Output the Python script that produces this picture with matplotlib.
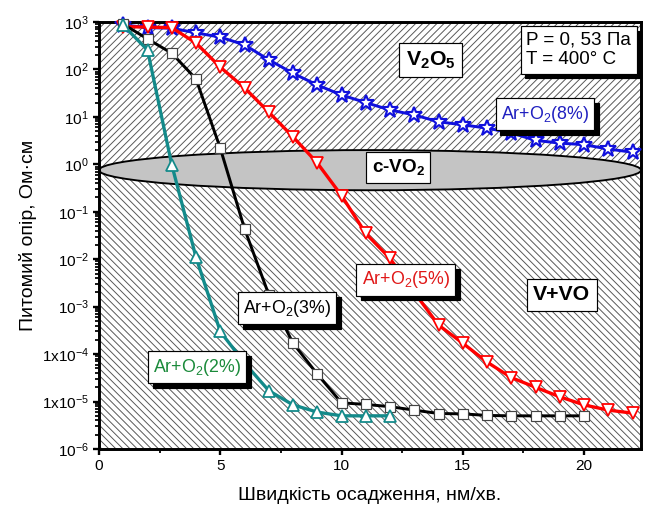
import matplotlib
matplotlib.use('Agg')
import matplotlib.pyplot as plt
import matplotlib.transforms as mtransforms
from matplotlib.patches import Rectangle, Ellipse
from matplotlib.ticker import LogLocator, MultipleLocator, NullFormatter

plt.rcParams['font.family'] = ['Liberation Sans', 'DejaVu Sans']
plt.rcParams['mathtext.fontset'] = 'custom'
plt.rcParams['mathtext.rm'] = 'Liberation Sans'
plt.rcParams['mathtext.it'] = 'Liberation Sans:italic'
plt.rcParams['mathtext.bf'] = 'Liberation Sans:bold'
plt.rcParams['hatch.linewidth'] = 0.8

# data: resistivity vs deposition rate for different O2 content
x2 = [1, 2, 3, 4, 5, 6, 7, 8, 9, 10, 11, 12]
y2 = [850, 257, 0.98, 0.011, 3.0e-4, 6.5e-5, 1.7e-5, 8.5e-6, 6.0e-6, 5.0e-6, 5.0e-6, 5.0e-6]

x3 = [1, 2, 3, 4, 5, 6, 7, 8, 9, 10, 11, 12, 13, 14, 15, 16, 17, 18, 19, 20]
y3 = [900, 440, 220, 63, 2.2, 0.044, 1.8e-3, 1.7e-4, 3.8e-5, 9.4e-6, 8.7e-6, 7.8e-6,
      6.6e-6, 5.6e-6, 5.5e-6, 5.1e-6, 5.0e-6, 5.0e-6, 5.0e-6, 5.0e-6]

x5 = [1, 2, 3, 4, 5, 6, 7, 8, 9, 10, 11, 12, 13, 14, 15, 16, 17, 18, 19, 20, 21, 22]
y5 = [800, 780, 760, 360, 112, 41, 12.6, 3.8, 1.07, 0.22, 0.035, 0.0104, 2.0e-3, 4.1e-4,
      1.7e-4, 6.8e-5, 3.2e-5, 2.0e-5, 1.26e-5, 8.5e-6, 6.6e-6, 5.7e-6]

x8 = [1, 2, 3, 4, 5, 6, 7, 8, 9, 10, 11, 12, 13, 14, 15, 16, 17, 18, 19, 20, 21, 22]
y8 = [870, 760, 740, 590, 480, 330, 160, 83, 47, 29, 20, 14, 11, 7.9, 6.8, 5.8, 4.6,
      3.2, 2.8, 2.6, 2.1, 1.8]

ytick_vals = [1e-6, 1e-5, 1e-4, 1e-3, 1e-2, 1e-1, 1e0, 1e1, 1e2, 1e3]
ytick_labels = [r'$\mathregular{10^{-6}}$', r'$\mathregular{1x10^{-5}}$', r'$\mathregular{1x10^{-4}}$',
                r'$\mathregular{10^{-3}}$', r'$\mathregular{10^{-2}}$', r'$\mathregular{10^{-1}}$',
                r'$\mathregular{10^{0}}$', r'$\mathregular{10^{1}}$', r'$\mathregular{10^{2}}$',
                r'$\mathregular{10^{3}}$']

dpi = 85
fig = plt.figure(figsize=(646 / dpi, 511 / dpi), dpi=dpi)
ax = fig.add_axes([99 / 646, 62 / 511, 542 / 646, 427 / 511])

ax.set_yscale('log')
ax.set_xlim(0, 22.35)
ax.set_ylim(1e-6, 1e3)

# hatched regions and the c-VO2 ellipse
ec = 0.653
ax.add_patch(Rectangle((0, ec), 1, 1 - ec, transform=ax.transAxes, facecolor='white',
                       edgecolor='#555555', hatch='////', lw=0, zorder=0))
ax.add_patch(Rectangle((0, 0), 1, ec, transform=ax.transAxes, facecolor='white',
                       edgecolor='#555555', hatch='\\\\\\\\', lw=0, zorder=0))
ax.add_patch(Ellipse((0.5, ec), 1.0, 0.094, transform=ax.transAxes, facecolor='#c4c4c4',
                     edgecolor='black', lw=1.6, zorder=1))

ax.plot(x8, y8, color='#1010dd', lw=2.5, marker='*', ms=14, mfc='white', mec='#1010dd',
        mew=1.8, zorder=3, clip_on=False)
ax.plot(x5, y5, color='#ff0000', lw=2.8, marker='v', ms=11, mfc='white', mec='#ff0000',
        mew=1.5, zorder=3, clip_on=False)
ax.plot(x3, y3, color='black', lw=2.5, marker='s', ms=9, mfc='white', mec='#444444',
        mew=1.0, zorder=3, clip_on=False)
ax.plot(x2, y2, color='#138a8a', lw=2.8, marker='^', ms=11, mfc='white', mec='#138a8a',
        mew=1.5, zorder=3, clip_on=False)

ax.set_yticks(ytick_vals)
ax.set_yticklabels(ytick_labels)
ax.yaxis.set_minor_locator(LogLocator(base=10, subs=range(2, 10), numticks=20))
ax.yaxis.set_minor_formatter(NullFormatter())
ax.xaxis.set_major_locator(MultipleLocator(5))
ax.xaxis.set_minor_locator(MultipleLocator(2.5))
ax.tick_params(which='major', direction='out', length=5, width=2, labelsize=13)
ax.tick_params(which='minor', direction='out', length=3, width=1.5)
for sp in ax.spines.values():
    sp.set_linewidth(2.5)

ax.set_xlabel('Швидкість осадження, нм/хв.', fontsize=16.5, labelpad=12)
ax.set_ylabel('Питомий опір, Ом·см', fontsize=16.5, labelpad=4)


def label(x, y, s, color='black', size=15, weight='normal', shadow=True):
    if shadow:
        sh = mtransforms.offset_copy(ax.transAxes, fig=fig, x=4, y=-4, units='points')
        ax.text(x, y, s, transform=sh, ha='center', va='center', fontsize=size,
                fontweight=weight, color='black', zorder=5, multialignment='left',
                bbox=dict(boxstyle='square,pad=0.3', fc='black', ec='black'))
    ax.text(x, y, s, transform=ax.transAxes, ha='center', va='center', fontsize=size,
            fontweight=weight, color=color, zorder=6, multialignment='left',
            bbox=dict(boxstyle='square,pad=0.3', fc='white', ec='black', lw=1))


label(0.612, 0.911, r'V$_\mathbf{2}$O$_\mathbf{5}$', size=18, weight='bold', shadow=False)
label(0.552, 0.660, r'c-VO$_\mathbf{2}$', size=16, weight='bold', shadow=False)
label(0.854, 0.361, 'V+VO', size=18, weight='bold', shadow=False)
label(0.885, 0.935, 'P = 0, 53 Па\nT = 400° C', size=16)
label(0.823, 0.784, r'Ar+O$_2$(8%)', color='#2020c0', size=15)
label(0.566, 0.396, r'Ar+O$_2$(5%)', color='#e01818', size=15)
label(0.347, 0.330, r'Ar+O$_2$(3%)', color='black', size=15)
label(0.181, 0.192, r'Ar+O$_2$(2%)', color='#1a8a3a', size=15)

fig.savefig('out.png', dpi=dpi)
